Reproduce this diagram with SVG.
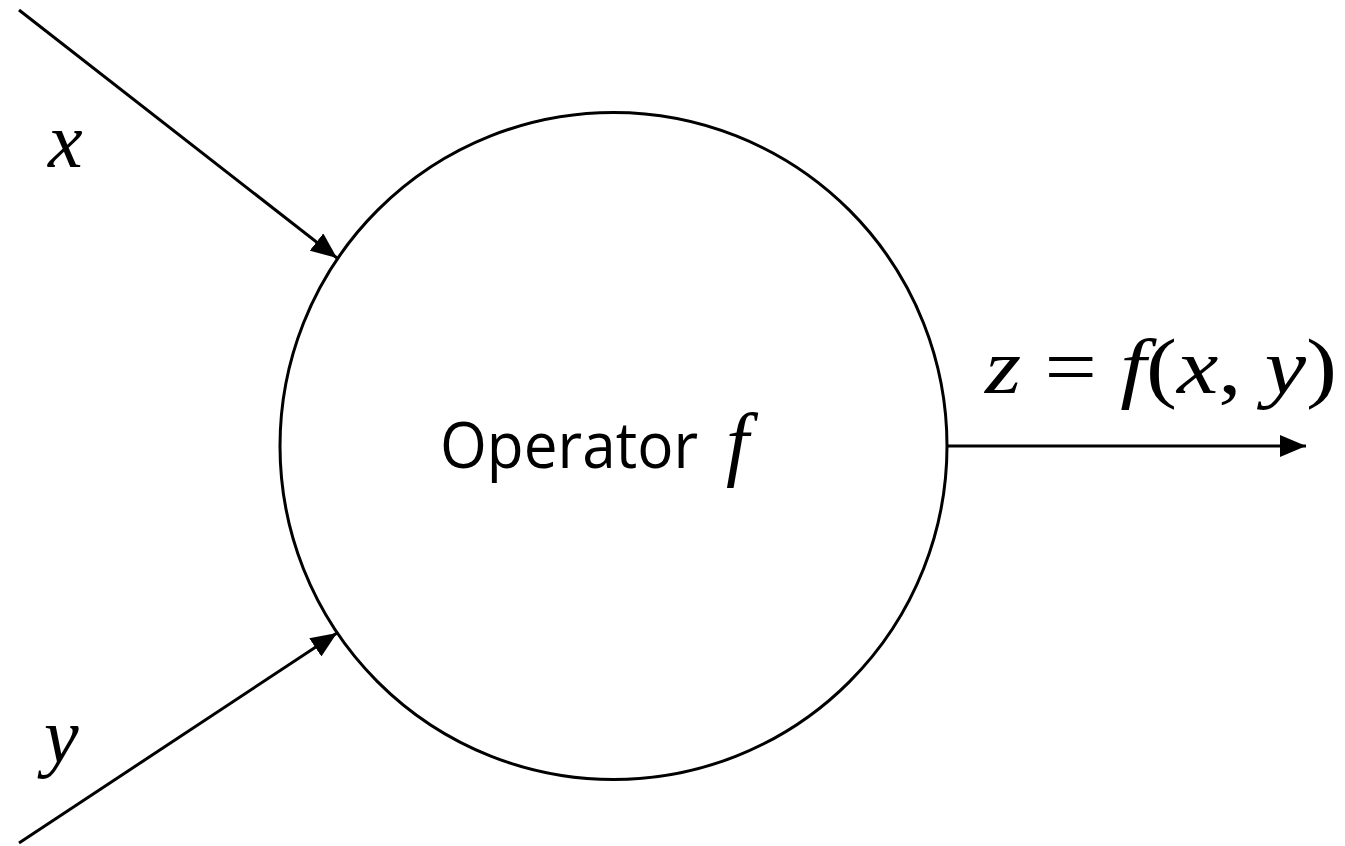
<svg xmlns="http://www.w3.org/2000/svg" width="1345" height="846" viewBox="0 0 1345 846">
<style>
.ln{stroke:#000;stroke-width:3;fill:none}
.m{font-family:"Liberation Serif","DejaVu Serif",serif;font-style:italic;fill:#000}
.u{font-family:"Liberation Serif","DejaVu Serif",serif;font-style:normal}
.t{font-family:"Open Sans","Noto Sans",sans-serif;fill:#000}
</style>
<defs>
<marker id="ah" markerUnits="userSpaceOnUse" markerWidth="28" markerHeight="22" refX="26" refY="11" orient="auto">
<path d="M0,0 L26,11 L0,22 Z" fill="#000"/>
</marker>
</defs>
<rect width="1345" height="846" fill="#fff"/>
<g id="connectors">
<line class="ln" x1="19" y1="10" x2="337" y2="258" marker-end="url(#ah)"/>
<line class="ln" x1="19" y1="843" x2="337" y2="633" marker-end="url(#ah)"/>
<line class="ln" x1="947" y1="446" x2="1306" y2="446" marker-end="url(#ah)"/>
</g>
<g id="operator">
<circle cx="613.5" cy="446" r="333.5" fill="none" stroke="#000" stroke-width="3"/>
<text class="t" x="440" y="468" font-size="64" textLength="258" lengthAdjust="spacingAndGlyphs">Operator</text>
<text class="m" x="726" y="470" font-size="82">f</text>
</g>
<g id="input-x">
<text class="m" x="48" y="167" font-size="78">x</text>
</g>
<g id="input-y">
<text class="m" x="44" y="762" font-size="78">y</text>
</g>
<g id="output">
<text class="m" x="985" y="393" font-size="78" textLength="352" lengthAdjust="spacingAndGlyphs">z <tspan class="u">=</tspan> f<tspan class="u">(</tspan>x<tspan class="u">,</tspan> y<tspan class="u">)</tspan></text>
</g>
</svg>
